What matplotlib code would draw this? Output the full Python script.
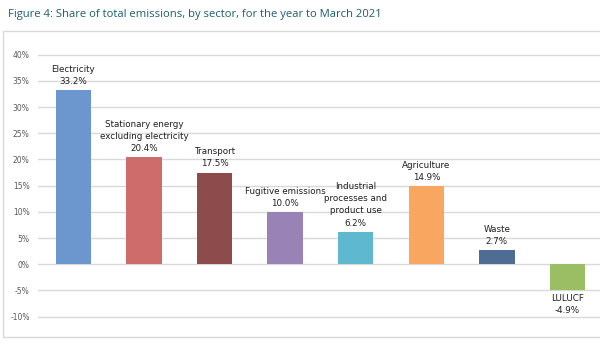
#!/usr/bin/env python3
"""Share of total emissions by sector, year to March 2021."""

import matplotlib.pyplot as plt
from matplotlib.patches import Rectangle
from matplotlib.ticker import FuncFormatter

# Data
sectors = ['Electricity', 'Stationary energy\nexcluding electricity', 'Transport',
           'Fugitive emissions', 'Industrial\nprocesses and\nproduct use',
           'Agriculture', 'Waste', 'LULUCF']
shares = [33.2, 20.4, 17.5, 10.0, 6.2, 14.9, 2.7, -4.9]
colors = ['#6B97CE', '#CD6C6B', '#8D4B4B', '#9882B6', '#5EB9D0',
          '#F8A660', '#4F6D94', '#9BBE64']
yticks = [-10, -5, 0, 5, 10, 15, 20, 25, 30, 35, 40]

fig = plt.figure(figsize=(6.0, 3.53), dpi=100)
fig.patch.set_facecolor('white')

# Title
fig.text(8 / 600, 1 - 15 / 353, 'Figure 4: Share of total emissions, by sector, for the year to March 2021',
         fontsize=8.1, color='#1D5F6C', family='Open Sans', va='center', ha='left')

# Chart border
fig.patches.append(Rectangle((3 / 600, 1 - 337 / 353), 0.999, (337 - 31) / 353,
                             transform=fig.transFigure, fill=False,
                             edgecolor='#D9D9D9', linewidth=1.0))

ax = fig.add_axes([38 / 600, 1 - 316.7 / 353, 562 / 600, (316.7 - 54.7) / 353])
x = list(range(len(sectors)))
ax.bar(x, shares, width=0.5, color=colors, zorder=3)

ax.set_xlim(-0.5, -0.5 + 562 / 70.6)
ax.set_ylim(-10, 40)
ax.set_yticks(yticks)
ax.yaxis.set_major_formatter(FuncFormatter(lambda v, p: f'{v:.0f}%'))
ax.tick_params(axis='y', length=0, labelsize=5.5, labelcolor='#595959', pad=6)
ax.set_xticks([])
ax.grid(axis='y', color='#D9D9D9', linewidth=1.0, zorder=0)
for line in ax.get_ygridlines():
    line.set_clip_on(False)
for s in ax.spines.values():
    s.set_visible(False)

# Data labels
for xi, name, val in zip(x, sectors, shares):
    text = f'{name}\n{val:.1f}%'
    if val >= 0:
        ax.annotate(text, (xi, val), xytext=(0, 3), textcoords='offset points',
                    ha='center', va='bottom', fontsize=6.3, color='#1F1F1F',
                    linespacing=1.45)
    else:
        ax.annotate(text, (xi, val), xytext=(0, -3), textcoords='offset points',
                    ha='center', va='top', fontsize=6.3, color='#1F1F1F',
                    linespacing=1.45)

plt.savefig('out.png', dpi=100)
